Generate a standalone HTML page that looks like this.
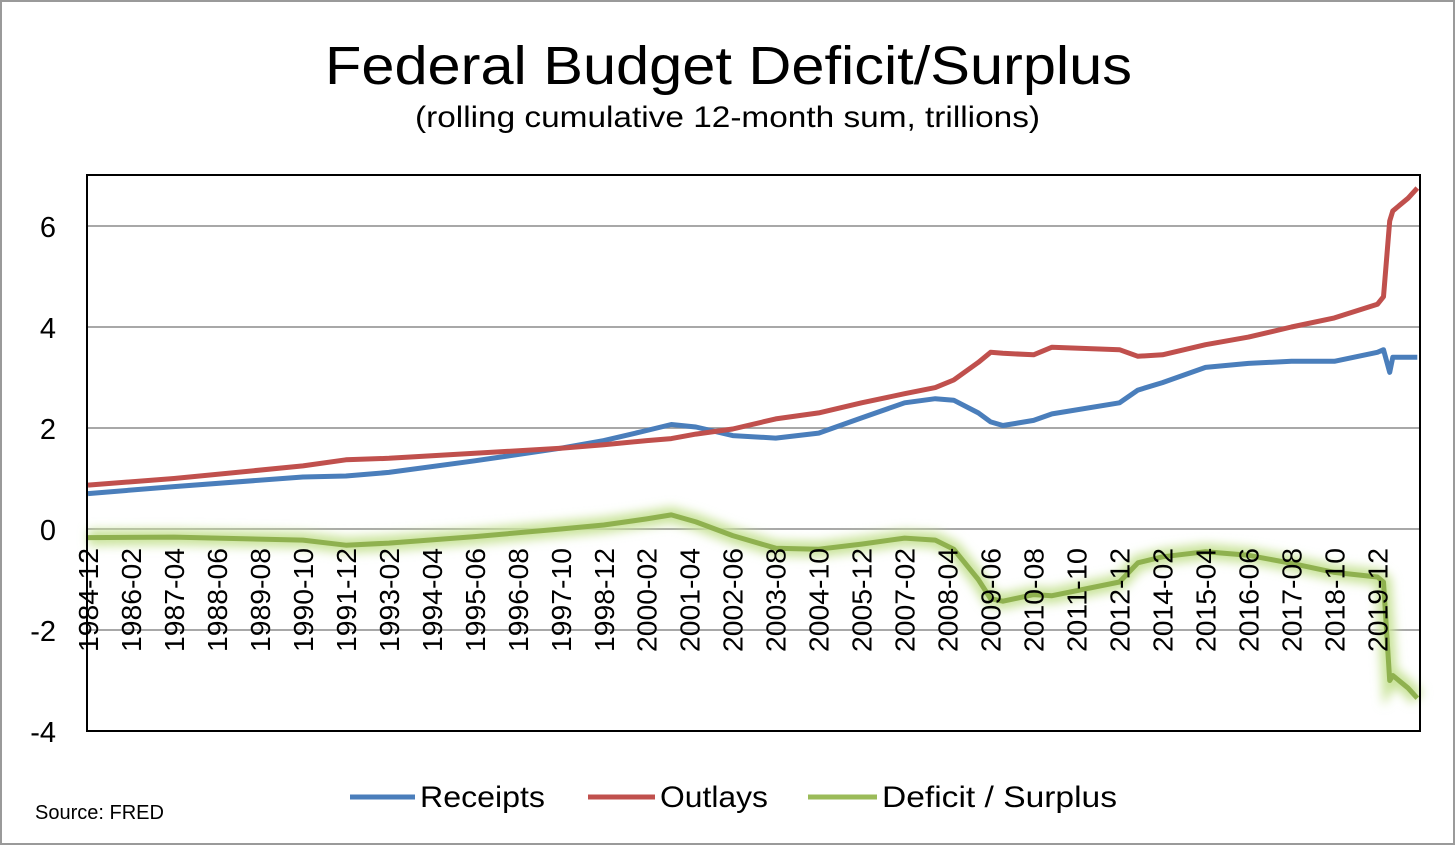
<!DOCTYPE html>
<html><head><meta charset="utf-8">
<style>
html,body{margin:0;padding:0;background:#fff}
body{width:1456px;height:846px;overflow:hidden;font-family:"Liberation Sans",sans-serif}
</style></head>
<body>
<svg id="chart" width="1456" height="846" xmlns="http://www.w3.org/2000/svg" font-family="Liberation Sans, sans-serif">
<defs>
<filter id="glow" x="-5%" y="-50%" width="110%" height="200%"><feGaussianBlur stdDeviation="5"/></filter>
</defs>
<rect x="1" y="1" width="1453" height="843" fill="#fff" stroke="#9a9a9a" stroke-width="2"/>
<text x="325" y="84" font-size="54" textLength="807" lengthAdjust="spacingAndGlyphs" fill="#000">Federal Budget Deficit/Surplus</text>
<text x="415" y="127" font-size="30" textLength="625" lengthAdjust="spacingAndGlyphs" fill="#000">(rolling cumulative 12-month sum, trillions)</text>
<g id="grid"></g>
<g id="series"></g>
<rect x="87" y="175" width="1333" height="556" fill="none" stroke="#000" stroke-width="2"/>
<g id="yticks"></g>
<g id="xticks"></g>
<g>
<line x1="350" y1="797" x2="415" y2="797" stroke="#4a7ebb" stroke-width="5"/>
<text x="420" y="807" font-size="30" textLength="125" lengthAdjust="spacingAndGlyphs">Receipts</text>
<line x1="588" y1="797" x2="655" y2="797" stroke="#c0504d" stroke-width="5"/>
<text x="660" y="807" font-size="30" textLength="108" lengthAdjust="spacingAndGlyphs">Outlays</text>
<line x1="808" y1="797" x2="877" y2="797" stroke="#9bbb59" stroke-width="5"/>
<text x="882" y="807" font-size="30" textLength="235" lengthAdjust="spacingAndGlyphs">Deficit / Surplus</text>
</g>
<text x="35" y="819" font-size="20">Source: FRED</text>
</svg>
<script>
// month offsets from 1984-12
const months   = [0,28,70,84,98,126,154,168,182,190,198,210,224,238,252,266,276,282,290,294,298,308,314,336,342,350,364,378,392,406,420,422,424,425,430,433];
const receipts = [0.70,0.84,1.03,1.05,1.12,1.35,1.60,1.75,1.95,2.07,2.02,1.85,1.80,1.90,2.20,2.50,2.58,2.55,2.30,2.12,2.05,2.15,2.28,2.50,2.75,2.90,3.20,3.28,3.32,3.32,3.50,3.55,3.10,3.40,3.40,3.40];
const outlays  = [0.87,1.00,1.25,1.37,1.40,1.50,1.60,1.67,1.75,1.79,1.88,1.98,2.18,2.30,2.50,2.68,2.80,2.95,3.30,3.50,3.48,3.45,3.60,3.55,3.42,3.45,3.65,3.80,4.00,4.18,4.45,4.60,6.10,6.30,6.55,6.75];
const yTicks   = [-4,-2,0,2,4,6];
const xLabels  = ["1984-12","1986-02","1987-04","1988-06","1989-08","1990-10","1991-12","1993-02","1994-04","1995-06","1996-08","1997-10","1998-12","2000-02","2001-04","2002-06","2003-08","2004-10","2005-12","2007-02","2008-04","2009-06","2010-08","2011-10","2012-12","2014-02","2015-04","2016-06","2017-08","2018-10","2019-12"];
const deficit = receipts.map((r,i)=>r-outlays[i]);

const NS="http://www.w3.org/2000/svg";
const xS=m=>88+m*3.07;
const yS=v=>529-v*50.5;
function mk(tag,attrs,parent){const e=document.createElementNS(NS,tag);for(const k in attrs)e.setAttribute(k,attrs[k]);parent.appendChild(e);return e;}
const grid=document.getElementById('grid'),yt=document.getElementById('yticks'),xt=document.getElementById('xticks'),ser=document.getElementById('series');
yTicks.forEach(v=>{
  if(v>-4){const l=mk('line',{x1:87,x2:1420,y1:yS(v),y2:yS(v),stroke:'#8c8c8c','stroke-width':1.5},grid);
  
  }
  const t=mk('text',{x:56,y:yS(v)+11,'text-anchor':'end','font-size':29},yt);
  t.textContent=v<0?'-'+Math.abs(v):String(v);
  
  
});
xLabels.forEach((s,i)=>{
  const x=xS(i*14)+10;
  const t=mk('text',{x:x,y:548,'text-anchor':'end','font-size':28,textLength:104,lengthAdjust:'spacingAndGlyphs',transform:`rotate(-90 ${x} 548)`},xt);
  t.textContent=s;
  
  
});
function pts(arr){return arr.map((v,i)=>xS(months[i]).toFixed(1)+','+yS(v).toFixed(1)).join(' ');}
const g=mk('polyline',{points:pts(deficit),fill:'none',stroke:'#c9e39a','stroke-width':16,filter:'url(#glow)'},ser);


const d=mk('polyline',{points:pts(deficit),fill:'none',stroke:'#8fb14f','stroke-width':5,'stroke-linejoin':'round'},ser);


const r=mk('polyline',{points:pts(receipts),fill:'none',stroke:'#4a7ebb','stroke-width':5,'stroke-linejoin':'round'},ser);


const o=mk('polyline',{points:pts(outlays),fill:'none',stroke:'#c0504d','stroke-width':5,'stroke-linejoin':'round'},ser);


</script>
</body></html>
